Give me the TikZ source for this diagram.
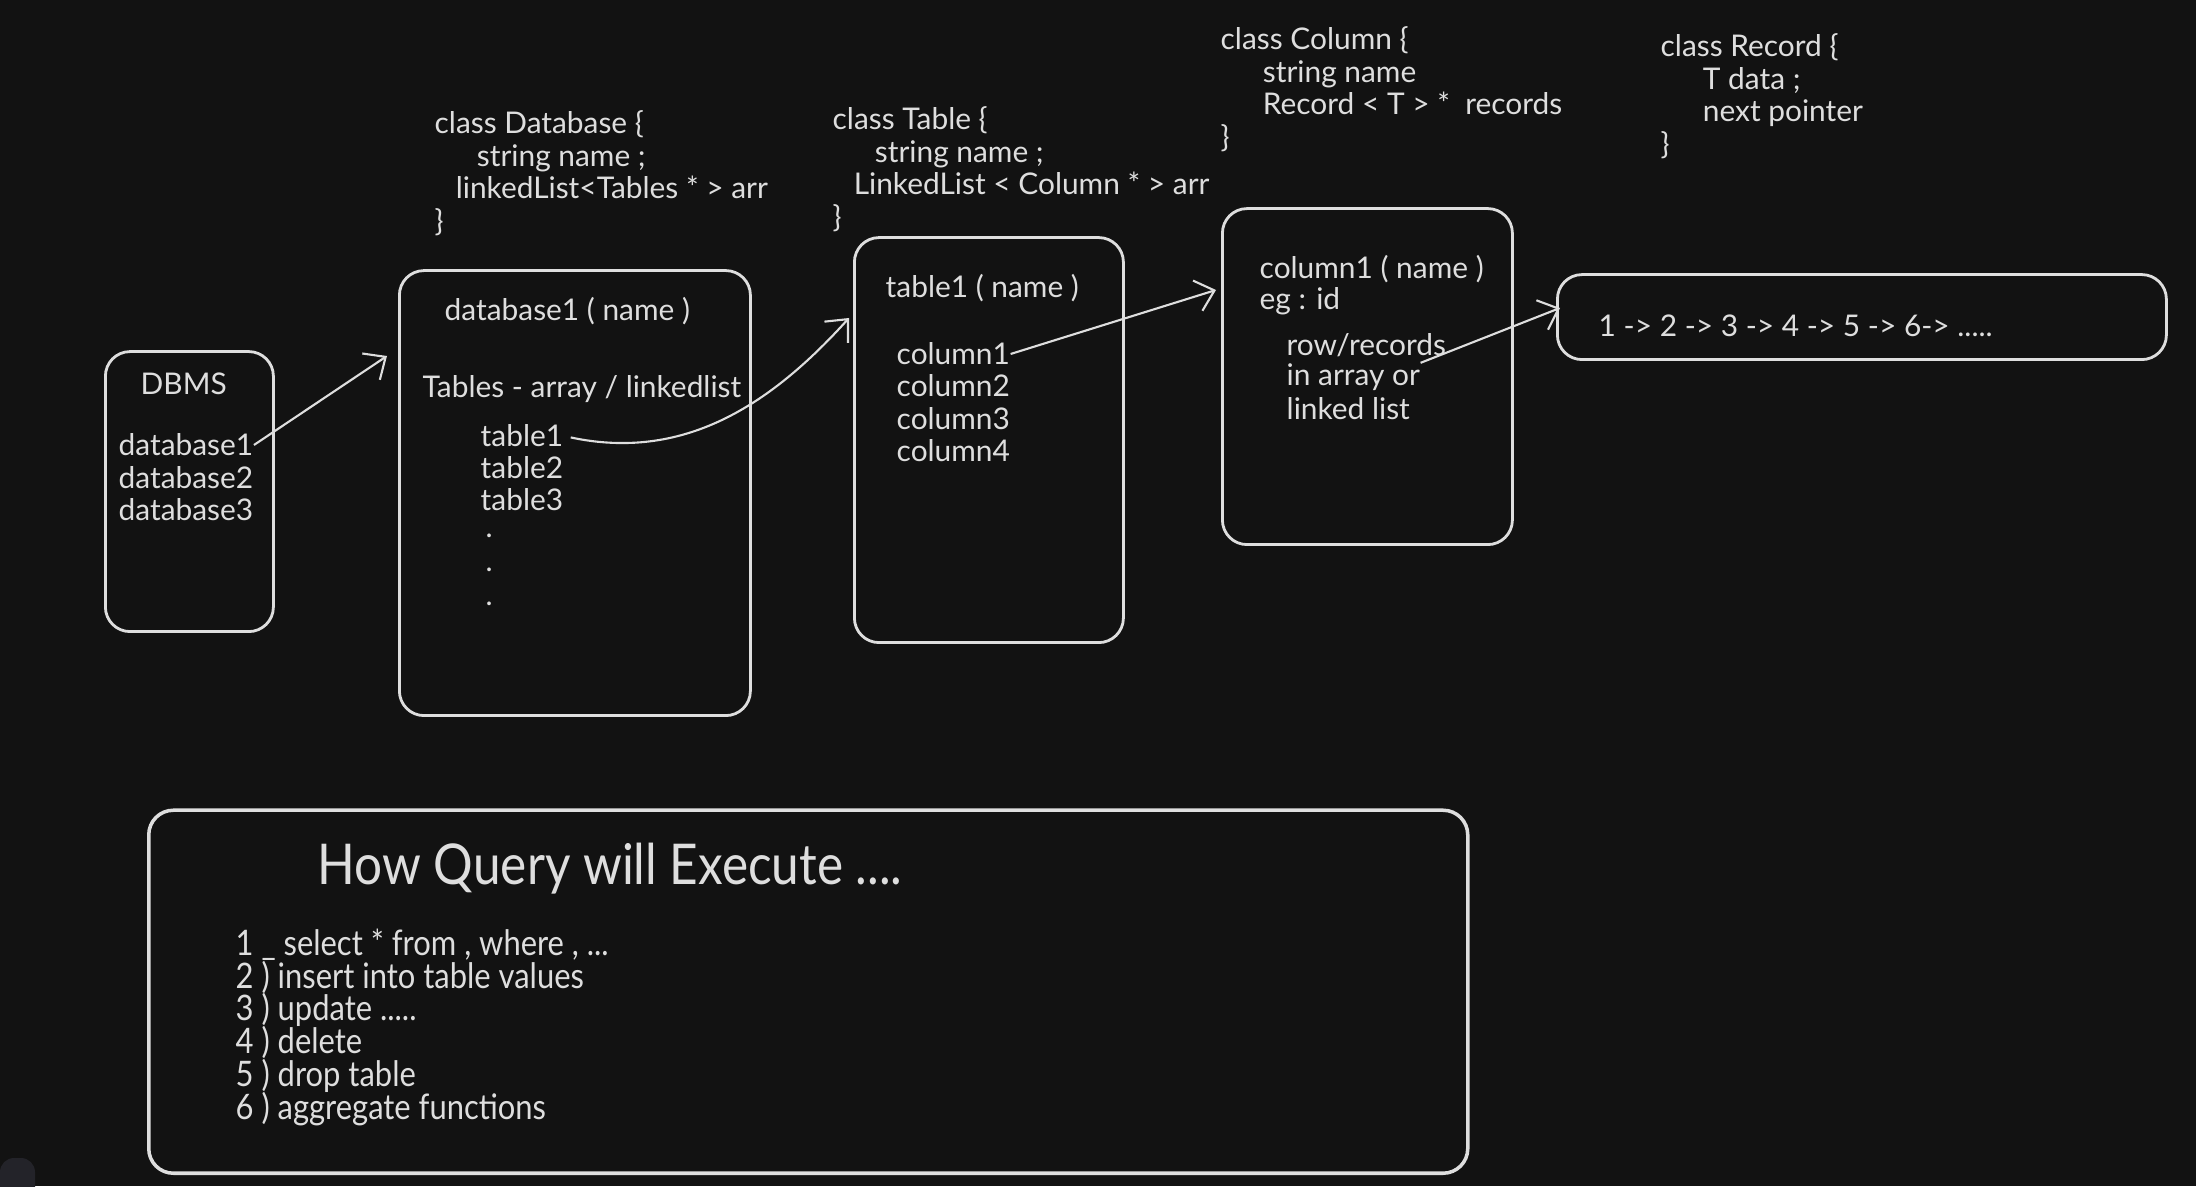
\documentclass[tikz,border=0pt]{standalone}
\usepackage{fontspec}
\setmainfont{Lato}
\newfontfamily\qfont[FakeStretch=0.88]{Lato}
\usetikzlibrary{arrows.meta}
\definecolor{bgc}{HTML}{121212}
\definecolor{ink}{HTML}{DEDEDE}
\definecolor{tabc}{HTML}{232329}
\begin{document}
\begin{tikzpicture}[
  box/.style={draw=ink,line width=.8pt,rounded corners=7pt,anchor=south west,inner sep=0pt},
  txt/.style={text=ink,anchor=west,inner sep=0pt,font=\fontsize{8.5}{9.3}\selectfont},
  code/.style={txt,anchor=north west,align=left},
  qtxt/.style={text=ink,anchor=north west,inner sep=0pt,align=left,font={\qfont\fontsize{10}{9.35}\selectfont\lineskiplimit=-10pt\relax}},
  link/.style={draw=ink,line width=.6pt,-{Straight Barb[length=5pt,width=9pt]}}]
\fill[bgc] (0,0) rectangle (21.96,11.86);
\useasboundingbox (0,0) rectangle (21.96,11.86);
\fill[tabc,rounded corners=4pt] (0,-.2) rectangle (.35,.28);
% boxes
\node[box,minimum width=1.68cm,minimum height=2.8cm] (dbms) at (1.04,5.53) {};
\node[box,minimum width=3.51cm,minimum height=4.45cm] (db) at (3.98,4.69) {};
\node[box,minimum width=2.69cm,minimum height=4.05cm] (tbl) at (8.53,5.42) {};
\node[box,minimum width=2.9cm,minimum height=3.36cm] (col) at (12.21,6.40) {};
\node[box,minimum width=6.09cm,minimum height=.85cm] (rec) at (15.56,8.25) {};
\node[box,line width=1pt,minimum width=13.19cm,minimum height=3.63cm] (qry) at (1.47,.11) {};
% class notes
\node[code] (clsDb) at (4.34,10.76) {class Database \{\\\hspace*{12pt}string name ;\\\hspace*{6pt}linkedList<Tables * > arr\\\}};
\node[code] (clsTbl) at (8.32,10.80) {class Table \{\\\hspace*{12pt}string name ;\\\hspace*{6pt}LinkedList < Column * > arr\\\}};
\node[code] (clsCol) at (12.20,11.60) {class Column \{\\\hspace*{12pt}string name\\\hspace*{12pt}Record < T > *~~records\\\}};
\node[code] (clsRec) at (16.60,11.53) {class Record \{\\\hspace*{12pt}T data ;\\\hspace*{12pt}next pointer\\\}};
% dbms
\node[txt] (dbmsT) at (1.40,8.02) {DBMS};
\node[txt] (db1) at (1.18,7.41) {database1};
\node[txt] (db2) at (1.18,7.08) {database2};
\node[txt] (db3) at (1.18,6.76) {database3};
% database
\node[txt] (dbT) at (4.44,8.75) {database1 ( name )};
\node[txt] (dbArr) at (4.22,7.97) {Tables - array / linkedlist};
\node[txt] (tb1) at (4.80,7.50) {table1};
\node[txt] (tb2) at (4.80,7.18) {table2};
\node[txt] (tb3) at (4.80,6.86) {table3};
\foreach \y in {6.50,6.16,5.82} \node[txt] at (4.85,\y) {.};
% table
\node[txt] (tblT) at (8.85,8.98) {table1 ( name )};
\node[txt] (col1) at (8.96,8.32) {column1};
\node[txt] (col2) at (8.96,8.00) {column2};
\node[txt] (col3) at (8.96,7.67) {column3};
\node[txt] (col4) at (8.96,7.35) {column4};
% column
\node[txt] (colT) at (12.59,9.17) {column1 ( name )};
\node[txt] (colEg) at (12.59,8.85) {eg : id};
\node[txt] (rows) at (12.86,8.41) {row/records};
\node[txt] (rowsB) at (12.86,8.09) {in array or};
\node[txt] (rowsC) at (12.86,7.77) {linked list};
% records
\node[txt] (recT) at (15.98,8.60) {1 -> 2 -> 3 -> 4 -> 5 -> 6-> .....};
% query
\node[qtxt,font=\qfont\fontsize{16}{17}\selectfont] (qryT) at (3.17,3.44) {How Query will Execute ....};
\node[qtxt] (qryL) at (2.35,2.58) {1 \_ select * from , where , ...\\2 ) insert into table values\\3 ) update .....\\4 ) delete\\5 ) drop table\\6 ) aggregate functions};
% links
\coordinate (dbIn) at (3.87,8.30);
\coordinate (tblIn) at (8.49,8.68);
\coordinate (colIn) at (12.16,8.96);
\coordinate (recIn) at (15.60,8.78);
\draw[link] (db1.east) -- (dbIn);
\draw[link,shorten <=2pt] (tb1.east) to[out=-12,in=228] (tblIn);
\draw[link] (col1.east) -- (colIn);
\draw[link] (rowsB.north east) -- (recIn);
\end{tikzpicture}
\end{document}
